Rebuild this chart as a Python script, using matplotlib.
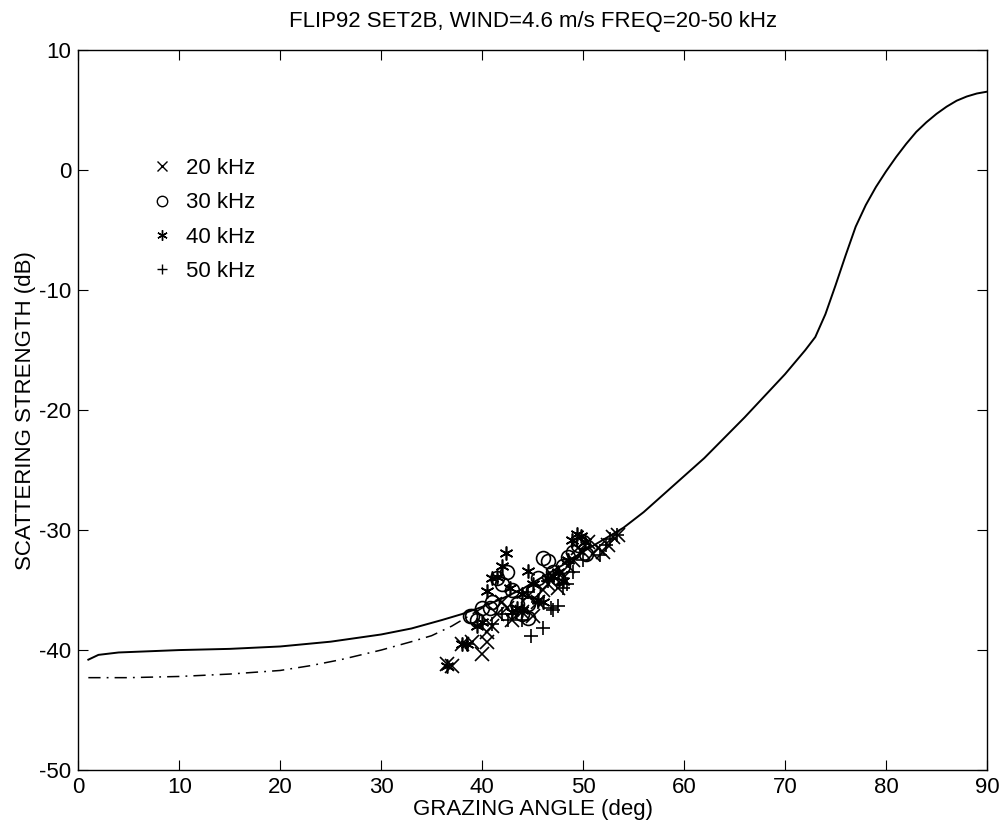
import matplotlib
matplotlib.use("Agg")
import matplotlib.pyplot as plt

plt.rcParams['font.family'] = ['Liberation Sans', 'DejaVu Sans']
plt.rcParams['axes.unicode_minus'] = False

# model curve (solid)
model_x = [1, 2, 4, 7, 10, 15, 20, 25, 30, 33, 36, 38, 40, 42, 44, 46, 48, 50,
           52, 54, 56, 58, 60, 62, 64, 66, 68, 70, 71, 72, 73, 74, 75, 76, 77,
           78, 79, 80, 81, 82, 83, 84, 85, 86, 87, 88, 89, 90]
model_y = [-40.8, -40.4, -40.2, -40.1, -40.0, -39.9, -39.7, -39.3, -38.7, -38.2,
           -37.5, -37.0, -36.4, -35.7, -34.9, -33.9, -32.9, -31.8, -30.8, -29.8,
           -28.5, -27.0, -25.5, -24.0, -22.3, -20.6, -18.8, -17.0, -16.0, -15.0,
           -13.9, -12.0, -9.6, -7.1, -4.7, -2.9, -1.4, -0.1, 1.1, 2.2, 3.2, 4.0,
           4.7, 5.3, 5.8, 6.15, 6.4, 6.55]

# low-angle variant (dash-dot)
alt_x = [1, 5, 10, 15, 20, 23, 26, 30, 33, 35, 37, 39, 41, 42]
alt_y = [-42.3, -42.3, -42.2, -42.0, -41.7, -41.3, -40.8, -40.0, -39.3, -38.8,
         -38.0, -37.0, -36.0, -35.6]

# measured data
f20_x = [36.5, 37, 38, 39, 40, 40.5, 41, 41.5, 42.5, 43, 44, 44.5, 45, 45.5, 46,
         46.5, 47, 47.5, 48, 48.5, 49, 49.5, 50, 50.5, 51, 51.5, 52, 52.5, 53,
         53.5, 40.5, 42]
f20_y = [-41.2, -41.3, -39.5, -39.3, -40.3, -39.3, -38, -37, -36.5, -37.5, -36.8,
         -35.5, -37.2, -36, -35, -34.5, -33.8, -34.8, -34, -33, -32.5, -31.5,
         -31.8, -31, -32, -31.5, -31.8, -31.2, -30.6, -30.4, -38.5, -36]

f30_x = [39, 39.5, 40, 41, 41.5, 42, 42.5, 43, 43.5, 44, 44.5, 45, 45.5, 46, 46.5,
         47, 47.5, 48, 48.5, 49, 49.5, 50, 50.3, 44.5, 38.8, 40.8]
f30_y = [-37.2, -37.5, -36.5, -36, -34, -34.5, -33.5, -35, -36.2, -37, -37.3, -35,
         -34, -32.3, -32.6, -33.5, -34, -33, -32.2, -31.8, -31.2, -31, -32, -36.2,
         -37.2, -36.5]

f40_x = [36.5, 38, 38.5, 39.5, 40, 40.5, 41, 41.5, 42, 42.4, 42.8, 43.5, 44, 44.5,
         45, 45.5, 46, 46.5, 47, 47.5, 48, 48.5, 48.9, 49.4, 49.8, 50.2, 43, 44]
f40_y = [-41.3, -39.5, -39.5, -38, -37.7, -35.1, -34, -33.9, -33, -31.9, -34.8,
         -36.5, -36.7, -33.4, -34.5, -35.8, -36, -34, -33.8, -33.5, -34.2, -32.5,
         -30.8, -30.3, -30.5, -31, -36.8, -35.3]

f50_x = [38.5, 41, 42, 42.6, 43, 44, 44.8, 46, 46.8, 47.5, 45.5, 47, 48, 48.4,
         49, 50, 51.7, 52.3, 52.7, 53.4, 44.5, 46.5]
f50_y = [-39.5, -37.8, -37, -37.5, -37, -37.5, -38.8, -38.2, -36.5, -36.3, -36,
         -36.7, -34.8, -34.5, -33.5, -32.5, -32.1, -31.2, -30.7, -30.4, -35.2, -34.2]

fig = plt.figure(figsize=(10.03, 8.33), dpi=100)
ax = fig.add_axes([0.078, 0.0756, 0.906, 0.864])

ax.plot(model_x, model_y, color='black', linewidth=1.4)
ax.plot(alt_x, alt_y, color='black', linewidth=1.1, dashes=(8, 4, 1.2, 4))

mk = dict(linestyle='none', color='black', markerfacecolor='none',
          markeredgewidth=1.2, markersize=10)
ax.plot(f20_x, f20_y, marker='x', label='20 kHz', **mk)
ax.plot(f30_x, f30_y, marker='o', label='30 kHz', **mk)
ax.plot(f40_x, f40_y, marker=(6, 2, 0), label='40 kHz', **mk)
ax.plot(f50_x, f50_y, marker='+', label='50 kHz', **mk)

ax.set_xlim(0, 90)
ax.set_ylim(-50, 10)
ax.set_xticks(range(0, 91, 10))
ax.set_yticks(range(-50, 11, 10))
ax.tick_params(direction='in', top=True, right=True, length=7, labelsize=16, pad=5)
for s in ax.spines.values():
    s.set_linewidth(1.0)

ax.set_xlabel('GRAZING ANGLE (deg)', fontsize=16, labelpad=1)
ax.set_ylabel('SCATTERING STRENGTH (dB)', fontsize=16, labelpad=2)
ax.set_title('FLIP92 SET2B, WIND=4.6 m/s FREQ=20-50 kHz', fontsize=16, pad=17)

leg = ax.legend(loc='upper left', bbox_to_anchor=(0.058, 0.878), frameon=False,
                fontsize=16, handlelength=1.0, handletextpad=0.6, labelspacing=0.6,
                markerscale=0.75)
for h in leg.legend_handles:
    h.set_markeredgewidth(1.0)

fig.savefig('out.png', dpi=100, facecolor='white')
